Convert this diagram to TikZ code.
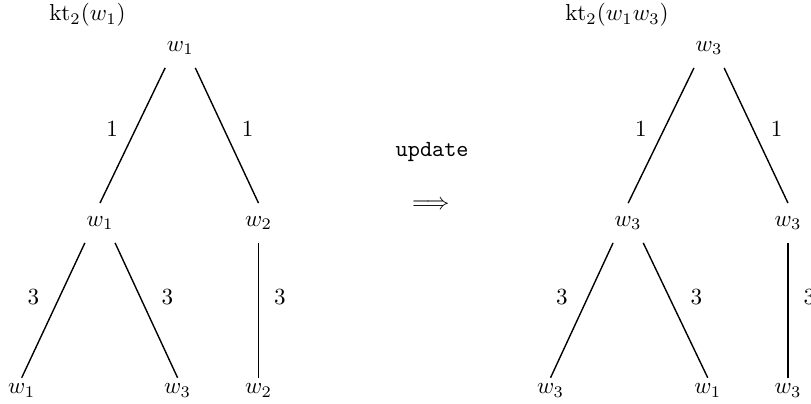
\documentclass[tikz,border=0pt]{standalone}
\usepackage{amsmath}
\usepackage{amssymb}
\usetikzlibrary{positioning}

\begin{document}
\begin{tikzpicture}[
    tnode/.style={inner xsep=0.5pt, inner ysep=5.5pt},
    leaf/.style={inner xsep=0.5pt, inner ysep=2.5pt},
    title/.style={inner sep=0pt},
    branch/.style={semithick},
    lab/.style={inner sep=3pt}
]
\clip (0,0) rectangle (12.33,6.14);
\useasboundingbox (0,0) rectangle (12.33,6.14);

% Left tree
\node[title] (ltitle) at (1.33, 5.91) {$\mathrm{kt}_2(w_1)$};
\node[tnode] (lroot) at (2.74, 5.41) {$w_1$};
\node[tnode] (lmidA) at (1.52, 2.75) {$w_1$};
\node[tnode] (lmidB) at (3.93, 2.75) {$w_2$};
\node[leaf] (lleafA) at (0.33, 0.20) {$w_1$};
\node[leaf] (lleafB) at (2.70, 0.20) {$w_3$};
\node[leaf] (lleafC) at (3.93, 0.20) {$w_2$};

% Update step
\node (upd) at (6.57, 3.83) {\texttt{update}};
\node (arr) at (6.55, 3.02) {$\Longrightarrow$};

% Right tree
\node[title] (rtitle) at (9.38, 5.91) {$\mathrm{kt}_2(w_1w_3)$};
\node[tnode] (rroot) at (10.78, 5.41) {$w_3$};
\node[tnode] (rmidA) at (9.55, 2.75) {$w_3$};
\node[tnode] (rmidB) at (11.98, 2.75) {$w_3$};
\node[leaf] (rleafA) at (8.37, 0.20) {$w_3$};
\node[leaf] (rleafB) at (10.76, 0.20) {$w_1$};
\node[leaf] (rleafC) at (11.98, 0.20) {$w_3$};

% Branches
\draw[branch] (lroot.south west) -- (lmidA.north) node[lab, pos=0.45, left=4.4pt] {$1$};
\draw[branch] (lroot.south east) -- (lmidB.north) node[lab, pos=0.45, right=4.5pt] {$1$};
\draw[branch] (lmidA.south west) -- (lleafA.north) node[lab, pos=0.4, left=5.5pt] {$3$};
\draw[branch] (lmidA.south east) -- (lleafB.north) node[lab, pos=0.4, right=6pt] {$3$};
\draw[branch] (lmidB.south) -- (lleafC.north) node[lab, pos=0.4, right=3.5pt] {$3$};

\draw[branch] (rroot.south west) -- (rmidA.north) node[lab, pos=0.45, left=4.4pt] {$1$};
\draw[branch] (rroot.south east) -- (rmidB.north) node[lab, pos=0.45, right=4.5pt] {$1$};
\draw[branch] (rmidA.south west) -- (rleafA.north) node[lab, pos=0.4, left=5.5pt] {$3$};
\draw[branch] (rmidA.south east) -- (rleafB.north) node[lab, pos=0.4, right=6pt] {$3$};
\draw[branch] (rmidB.south) -- (rleafC.north) node[lab, pos=0.4, right=3.5pt] {$3$};

\end{tikzpicture}
\end{document}
